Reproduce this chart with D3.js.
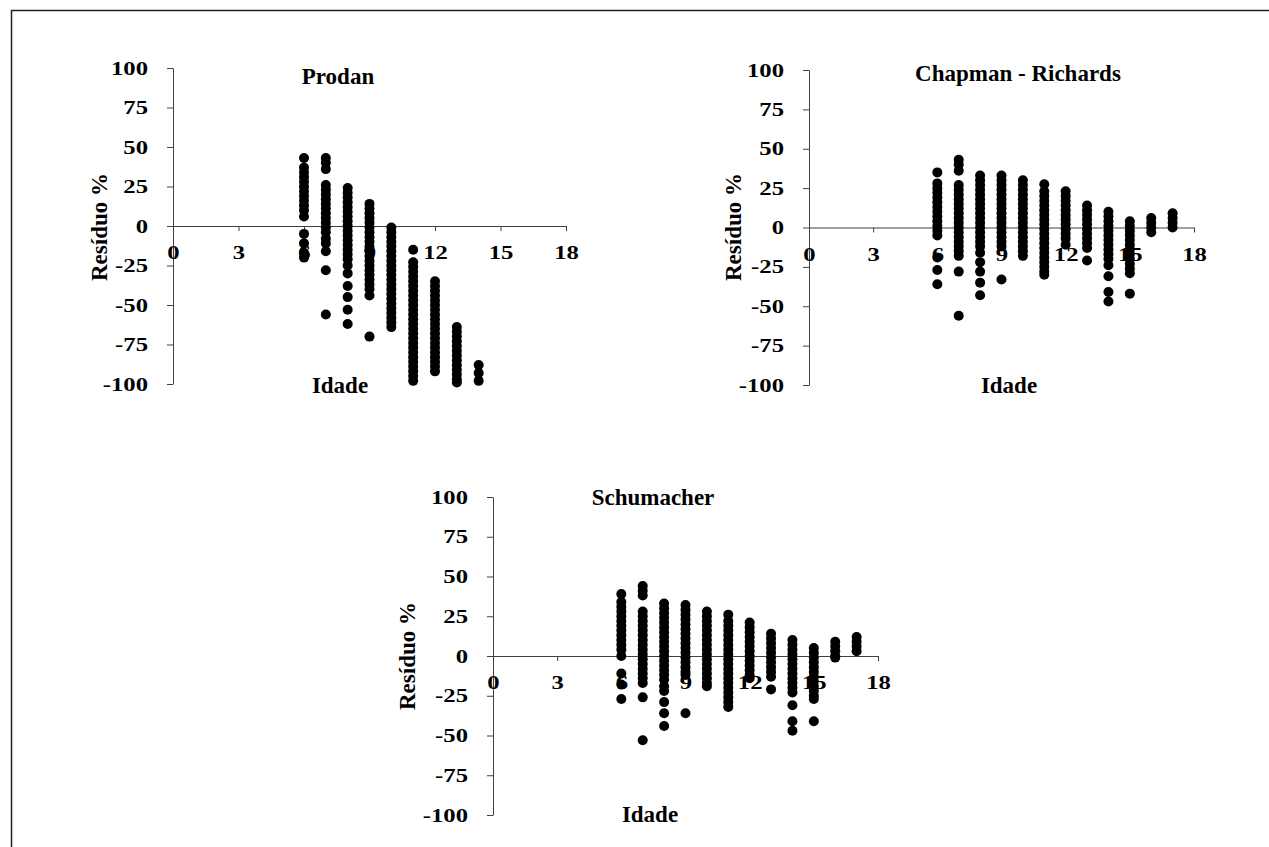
<!DOCTYPE html>
<html>
<head>
<meta charset="utf-8">
<script src="https://cdn.jsdelivr.net/npm/d3@7"></script>
<style>
  html, body { margin: 0; padding: 0; background: #fff; }
  svg { display: block; }
</style>
</head>
<body>
<svg id="chart" width="1269" height="847"></svg>
<script>
(function() {
    'use strict';

    // Residual (%) by age, one column of points per age
    const prodanData = [
        [6, [43, 37, 34, 31, 28, 25, 22, 19, 16, 13, 10, 6, -5, -11, -17, -20]],
        [7, [43, 40, 36, 26, 23, 20, 17, 14, 11, 8, 5, 2, -1, -4, -8, -11, -16, -28, -56]],
        [8, [24, 21, 18, 15, 12, 9, 6, 3, 0, -3, -6, -9, -12, -15, -18, -21, -25, -30, -38, -45, -53, -62]],
        [9, [14, 11, 8, 5, 2, -1, -4, -7, -10, -13, -16, -19, -22, -25, -28, -31, -34, -37, -40, -44, -70]],
        [10, [-1, -4, -7, -10, -13, -16, -19, -22, -25, -28, -31, -34, -37, -40, -43, -46, -49, -52, -55, -58, -61, -64]],
        [11, [-15, -23, -26, -29, -32, -35, -38, -41, -44, -47, -50, -53, -56, -59, -62, -65, -68, -71, -74, -77, -80, -83, -86, -89, -92, -95, -98]],
        [12, [-35, -38, -41, -44, -47, -50, -53, -56, -59, -62, -65, -68, -71, -74, -77, -80, -83, -86, -89, -92]],
        [13, [-64, -67, -70, -73, -76, -79, -82, -85, -88, -91, -94, -97, -99]],
        [14, [-88, -93, -98]]
    ];

    const chapmanData = [
        [6, [35, 28, 25, 22, 19, 16, 13, 10, 7, 4, 1, -2, -5, -19, -27, -36]],
        [7, [43, 40, 36, 27, 24, 21, 18, 15, 12, 9, 6, 3, 0, -3, -6, -9, -12, -15, -18, -28, -56]],
        [8, [33, 30, 27, 24, 21, 18, 15, 12, 9, 6, 3, 0, -3, -6, -9, -12, -16, -22, -28, -35, -43]],
        [9, [33, 30, 27, 24, 21, 18, 15, 12, 9, 6, 3, 0, -3, -6, -9, -12, -33]],
        [10, [30, 27, 24, 21, 18, 15, 12, 9, 6, 3, 0, -3, -6, -9, -12, -15, -18]],
        [11, [27.5, 23, 20, 17, 14, 11, 8, 5, 2, -1, -4, -7, -10, -13, -16, -19, -22, -25, -28, -30]],
        [12, [23, 20, 17, 14, 11, 8, 5, 2, -1, -4, -7, -11]],
        [13, [14, 11, 8, 5, 2, -1, -4, -7, -10, -13, -21]],
        [14, [10, 7, 4, 1, -2, -5, -8, -11, -14, -17, -20, -24, -31, -41, -47]],
        [15, [4, 1, -2, -5, -8, -11, -14, -17, -20, -23, -26, -29, -42]],
        [16, [6, 3, 0, -3]],
        [17, [9, 6, 3, 0]]
    ];

    const schumacherData = [
        [6, [39, 34, 31, 28, 25, 22, 19, 16, 13, 10, 7, 4, 0, -11, -18, -27]],
        [7, [44, 41, 38, 28, 25, 22, 19, 16, 13, 10, 7, 4, 1, -2, -5, -8, -11, -14, -17, -26, -53]],
        [8, [33, 30, 27, 24, 21, 18, 15, 12, 9, 6, 3, 0, -3, -6, -9, -12, -15, -19, -22, -29, -36, -44]],
        [9, [32, 29, 26, 23, 20, 17, 14, 11, 8, 5, 2, -1, -4, -7, -10, -12, -36]],
        [10, [28, 25, 22, 19, 16, 13, 10, 7, 4, 1, -2, -5, -8, -11, -14, -17, -19]],
        [11, [26, 22, 19, 16, 13, 10, 7, 4, 1, -2, -5, -8, -11, -14, -17, -20, -23, -26, -29, -32]],
        [12, [21, 18, 15, 12, 9, 6, 3, 0, -3, -6, -9, -12, -14]],
        [13, [14, 11, 8, 5, 2, -1, -4, -7, -10, -13, -21]],
        [14, [10, 7, 4, 1, -2, -5, -8, -11, -14, -17, -20, -23, -31, -41, -47]],
        [15, [5, 2, -1, -4, -7, -10, -13, -16, -19, -22, -25, -27, -41]],
        [16, [9, 6, 3, 0, -1]],
        [17, [12, 9, 6, 3]]
    ];

    const xTicks = [0, 3, 6, 9, 12, 15, 18];
    const yTicks = [-100, -75, -50, -25, 0, 25, 50, 75, 100];
    const xLabel = 'Idade';
    const yLabel = 'Resíduo %';

    // panel boxes (pixel placement of each small chart)
    const panels = [
        { title: 'Prodan', data: prodanData, left: 173, right: 566, top: 68, bottom: 384,
          titleX: 338, titleY: 84, xlabX: 340, xlabY: 393, ylabX: 107, ylabY: 227 },
        { title: 'Chapman - Richards', data: chapmanData, left: 809, right: 1194, top: 70, bottom: 385,
          titleX: 1018, titleY: 81, xlabX: 1009, xlabY: 393, ylabX: 741, ylabY: 227 },
        { title: 'Schumacher', data: schumacherData, left: 493, right: 878, top: 497, bottom: 815,
          titleX: 653, titleY: 505, xlabX: 650, xlabY: 822, ylabX: 415, ylabY: 656 }
    ];

    const serif = '"Liberation Serif", "Times New Roman", serif';
    const sx = 1.3;   // tick labels look horizontally stretched
    const axisColor = '#404040';
    const plain = d => String(d);   // hyphen minus, like the original

    const svg = d3.select('#chart');

    // frame (only left and top edges show)
    svg.append('rect')
        .attr('x', 11.5).attr('y', 10.5)
        .attr('width', 1400).attr('height', 1000)
        .attr('fill', 'none')
        .attr('stroke', '#222')
        .attr('stroke-width', 1.5);

    panels.forEach(p => {
        const x = d3.scaleLinear().domain([0, 18]).range([p.left, p.right]);
        const y = d3.scaleLinear().domain([-100, 100]).range([p.bottom, p.top]);
        const g = svg.append('g');

        // y axis
        const ya = g.append('g')
            .attr('transform', `translate(${x(0)},0)`)
            .call(d3.axisLeft(y).tickValues(yTicks).tickFormat(plain)
                .tickSize(6).tickSizeOuter(0).tickPadding(19));
        ya.selectAll('.tick text')
            .attr('x', -25 / sx)
            .attr('transform', `scale(${sx},1)`);

        // x axis at zero
        const xa = g.append('g')
            .attr('transform', `translate(0,${y(0)})`)
            .call(d3.axisBottom(x).tickValues(xTicks).tickFormat(plain)
                .tickSize(5).tickSizeOuter(0).tickPadding(15));
        xa.selectAll('.tick text')
            .attr('transform', `scale(${sx},1)`)
            .attr('x', 0);

        g.selectAll('.domain, .tick line')
            .attr('stroke', axisColor)
            .attr('stroke-width', 1);
        g.selectAll('.tick text')
            .attr('fill', '#000')
            .attr('font-family', serif)
            .attr('font-weight', 'bold')
            .attr('font-size', 19);

        // titles
        g.append('text')
            .attr('x', p.titleX).attr('y', p.titleY)
            .attr('text-anchor', 'middle')
            .attr('font-family', serif).attr('font-weight', 'bold').attr('font-size', 23)
            .text(p.title);

        g.append('text')
            .attr('x', p.xlabX).attr('y', p.xlabY)
            .attr('text-anchor', 'middle')
            .attr('font-family', serif).attr('font-weight', 'bold').attr('font-size', 23)
            .text(xLabel);

        g.append('text')
            .attr('transform', `translate(${p.ylabX},${p.ylabY}) rotate(-90)`)
            .attr('text-anchor', 'middle')
            .attr('font-family', serif).attr('font-weight', 'bold').attr('font-size', 23)
            .text(yLabel);

        // points, drawn over the tick labels
        const pts = p.data.flatMap(([age, vals]) => vals.map(v => ({ age, v })));
        g.append('g')
            .selectAll('circle')
            .data(pts)
            .join('circle')
            .attr('cx', d => x(d.age))
            .attr('cy', d => y(d.v))
            .attr('r', 5)
            .attr('fill', '#000');
    });
})();
</script>
</body>
</html>
